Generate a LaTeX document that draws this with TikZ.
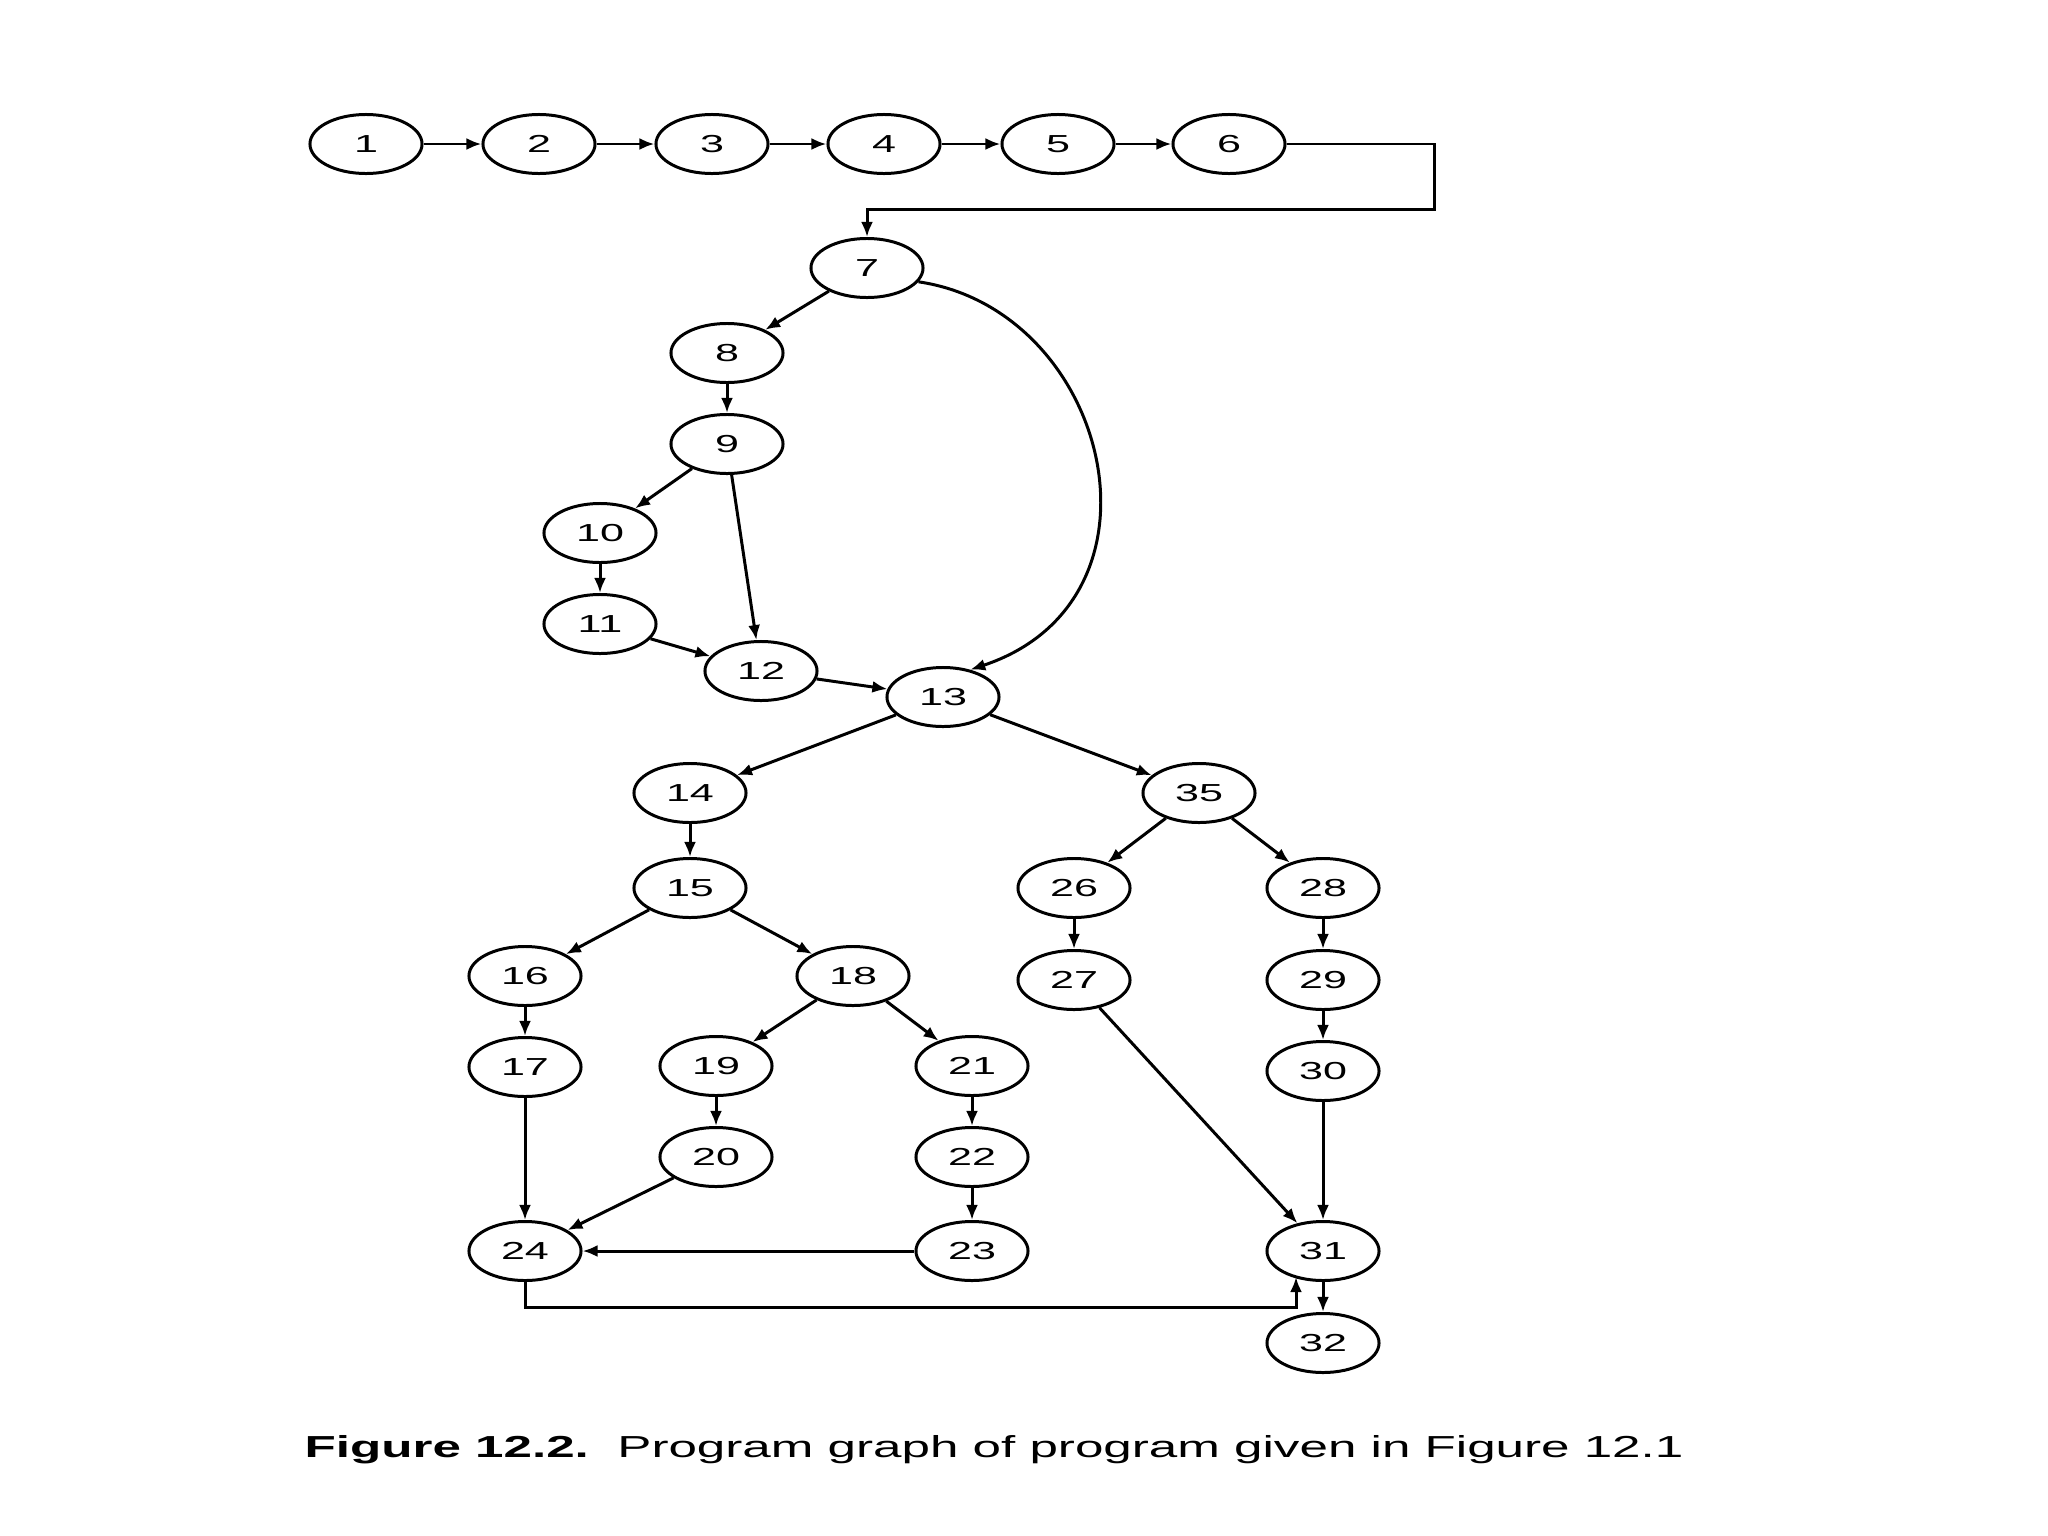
\documentclass[tikz,border=0pt]{standalone}
\usepackage{fontspec}
\usepackage{graphicx}
\setmainfont{Liberation Sans}
\usetikzlibrary{shapes.geometric,arrows.meta}
\newcommand{\numtxt}[1]{\scalebox{1.75}[1]{#1}}
\begin{document}
\begin{tikzpicture}[x=0.01cm,y=-0.01cm,
  nd/.style={ellipse,draw,line width=0.85pt,minimum width=1.12cm,minimum height=0.59cm,inner sep=0pt,font=\fontsize{7}{8}\selectfont},
  ar/.style={line width=0.85pt,-{Latex[length=1.5mm,width=1.2mm]}}]
\useasboundingbox (0,0) rectangle (2048,1536);
\node[nd] (n1) at (366,144) {\numtxt{1}};
\node[nd] (n2) at (539,144) {\numtxt{2}};
\node[nd] (n3) at (712,144) {\numtxt{3}};
\node[nd] (n4) at (884,144) {\numtxt{4}};
\node[nd] (n5) at (1058,144) {\numtxt{5}};
\node[nd] (n6) at (1229,144) {\numtxt{6}};
\node[nd] (n7) at (867,268) {\numtxt{7}};
\node[nd] (n8) at (727,353) {\numtxt{8}};
\node[nd] (n9) at (727,444) {\numtxt{9}};
\node[nd] (n10) at (600,533) {\numtxt{10}};
\node[nd] (n11) at (600,624) {\numtxt{11}};
\node[nd] (n12) at (761,671) {\numtxt{12}};
\node[nd] (n13) at (943,697) {\numtxt{13}};
\node[nd] (n14) at (690,793) {\numtxt{14}};
\node[nd] (n35) at (1199,793) {\numtxt{35}};
\node[nd] (n15) at (690,888) {\numtxt{15}};
\node[nd] (n26) at (1074,888) {\numtxt{26}};
\node[nd] (n28) at (1323,888) {\numtxt{28}};
\node[nd] (n16) at (525,976) {\numtxt{16}};
\node[nd] (n18) at (853,976) {\numtxt{18}};
\node[nd] (n27) at (1074,980) {\numtxt{27}};
\node[nd] (n29) at (1323,980) {\numtxt{29}};
\node[nd] (n17) at (525,1067) {\numtxt{17}};
\node[nd] (n19) at (716,1066) {\numtxt{19}};
\node[nd] (n21) at (972,1066) {\numtxt{21}};
\node[nd] (n30) at (1323,1071) {\numtxt{30}};
\node[nd] (n20) at (716,1157) {\numtxt{20}};
\node[nd] (n22) at (972,1157) {\numtxt{22}};
\node[nd] (n24) at (525,1251) {\numtxt{24}};
\node[nd] (n23) at (972,1251) {\numtxt{23}};
\node[nd] (n31) at (1323,1251) {\numtxt{31}};
\node[nd] (n32) at (1323,1343) {\numtxt{32}};

\coordinate (c6) at (1434,209);
\coordinate (c24) at (1296,1307);
\coordinate (e31) at (1296,1277);

\draw[ar] (n1) -- (n2);
\draw[ar] (n2) -- (n3);
\draw[ar] (n3) -- (n4);
\draw[ar] (n4) -- (n5);
\draw[ar] (n5) -- (n6);
\draw[ar] (n6.east) -| (c6) -| (n7.north);
\draw[ar] (n7) -- (n8);
\draw[ar] (n7.-15) .. controls (1110,310) and (1180,600) .. (n13.45);
\draw[ar] (n8) -- (n9);
\draw[ar] (n9) -- (n10);
\draw[ar] (n9) -- (n12);
\draw[ar] (n10) -- (n11);
\draw[ar] (n11) -- (n12);
\draw[ar] (n12) -- (n13);
\draw[ar] (n13) -- (n14);
\draw[ar] (n13) -- (n35);
\draw[ar] (n14) -- (n15);
\draw[ar] (n15) -- (n16);
\draw[ar] (n15) -- (n18);
\draw[ar] (n35) -- (n26);
\draw[ar] (n35) -- (n28);
\draw[ar] (n26) -- (n27);
\draw[ar] (n28) -- (n29);
\draw[ar] (n29) -- (n30);
\draw[ar] (n16) -- (n17);
\draw[ar] (n18) -- (n19);
\draw[ar] (n18) -- (n21);
\draw[ar] (n19) -- (n20);
\draw[ar] (n21) -- (n22);
\draw[ar] (n22) -- (n23);
\draw[ar] (n17) -- (n24);
\draw[ar] (n20) -- (n24);
\draw[ar] (n23) -- (n24);
\draw[ar] (n27) -- (n31);
\draw[ar] (n30) -- (n31);
\draw[ar] (n24.south) |- (c24) -- (e31);
\draw[ar] (n31) -- (n32);

\node[anchor=base west,inner sep=0pt] (cap) at (304,1457) {\resizebox{13.78cm}{0.22cm}{\textbf{Figure 12.2.}\ \ Program graph of program given in Figure 12.1}};
\end{tikzpicture}
\end{document}
